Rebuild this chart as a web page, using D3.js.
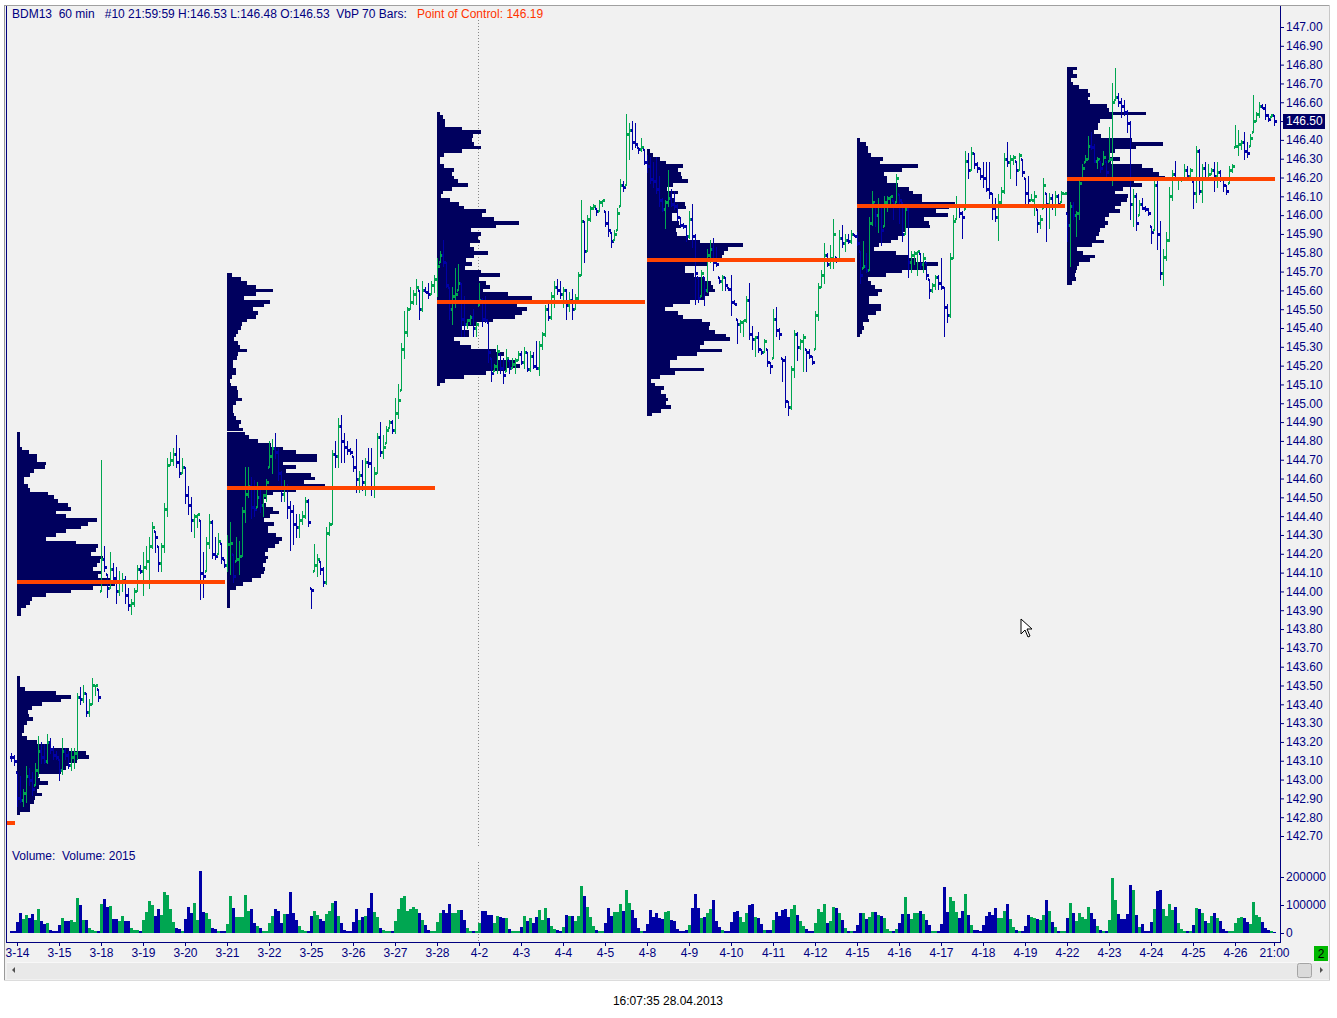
<!DOCTYPE html>
<html>
<head>
<meta charset="utf-8">
<title>BDM13 60 min - Volume by Price</title>
<script src="https://cdn.jsdelivr.net/npm/d3@7/dist/d3.min.js"></script>
<style>
	body { margin: 0; background: #ffffff; }
	svg text { font-family: "Liberation Sans", Arial, sans-serif; font-size: 12px; }
</style>
</head>
<body>
<div id="chart"></div>
<script>
// ---- data ----
// hourly bars, 14 per session; bar 0 and 1 are the tail of 3-13
var highs = [
	143.14,143.13,143.04,143.02,142.95,143.07,143.06,143.04,143.09,143.23,143.20,143.19,143.24,143.22,143.18,143.15,
	143.11,143.22,143.17,143.15,143.17,143.17,143.46,143.49,143.50,143.46,143.43,143.54,143.50,143.48,
	144.70,144.24,144.09,144.21,144.15,144.13,144.11,144.10,144.08,144.02,143.96,144.02,144.14,144.14,
	144.21,144.24,144.29,144.37,144.32,144.24,144.26,144.47,144.71,144.74,144.76,144.83,144.76,144.71,
	144.66,144.56,144.50,144.41,144.41,144.38,144.21,144.29,144.41,144.38,144.29,144.31,144.26,144.17,
	144.30,144.37,144.20,144.29,144.27,144.45,144.66,144.66,144.61,144.59,144.58,144.54,144.52,144.60,
	144.80,144.81,144.84,144.76,144.64,144.59,144.57,144.48,144.46,144.41,144.41,144.43,144.50,144.49,
	144.02,144.25,144.20,144.16,144.13,144.34,144.37,144.75,144.80,144.92,144.94,144.84,144.80,144.76,
	144.72,144.81,144.64,144.70,144.71,144.76,144.76,144.66,144.84,144.90,144.83,144.88,144.91,144.91,
	145.03,145.10,145.32,145.49,145.51,145.62,145.60,145.66,145.60,145.65,145.62,145.64,145.65,145.68,
	145.77,145.81,145.87,145.75,145.62,145.62,145.72,145.74,145.64,145.57,145.45,145.47,145.50,145.43,
	145.64,145.56,145.57,145.43,145.24,145.21,145.31,145.26,145.24,145.29,145.23,145.24,145.24,145.28,
	145.28,145.30,145.27,145.28,145.27,145.33,145.33,145.38,145.52,145.54,145.59,145.65,145.66,145.65,
	145.62,145.61,145.59,145.61,145.58,145.70,146.08,145.97,146.00,146.05,146.06,146.04,146.08,146.08,
	146.02,146.02,145.91,145.92,146.04,146.19,146.18,146.54,146.49,146.50,146.49,146.36,146.41,146.35,
	146.32,146.31,146.28,146.31,146.21,146.09,146.08,146.24,146.14,146.13,146.06,145.99,145.96,145.95,
	146.02,146.06,145.90,145.67,145.71,145.67,145.82,145.87,145.88,145.83,145.67,145.68,145.67,145.62,
	145.68,145.55,145.45,145.44,145.44,145.57,145.64,145.41,145.36,145.38,145.29,145.34,145.29,145.22,
	145.50,145.51,145.40,145.24,145.25,145.01,145.20,145.39,145.38,145.34,145.37,145.29,145.29,145.25,
	145.49,145.64,145.71,145.85,145.80,145.84,145.98,145.78,145.92,145.95,145.90,145.90,145.92,145.90,
	145.91,145.81,145.86,145.80,145.99,146.13,146.06,146.09,146.05,146.10,146.10,146.10,146.08,146.22,
	146.11,146.07,146.05,146.05,145.81,145.81,145.81,145.80,145.80,145.75,145.66,145.64,145.68,145.68,
	145.77,145.62,145.53,145.80,146.00,146.10,146.05,146.02,146.34,146.33,146.36,146.33,146.28,146.25,
	146.28,146.28,146.28,146.12,146.09,146.11,146.15,146.33,146.39,146.32,146.32,146.29,146.33,146.30,
	146.20,146.21,146.11,146.13,146.03,146.00,146.20,146.12,146.12,146.11,146.13,146.11,146.13,146.12,
	146.01,146.07,146.07,146.02,146.20,146.27,146.32,146.42,146.44,146.38,146.31,146.29,146.34,146.29,
	146.47,146.70,146.78,146.65,146.62,146.61,146.56,146.50,146.14,146.12,146.08,146.09,146.05,146.04,
	145.94,146.19,146.19,145.97,145.82,145.91,146.15,146.24,146.29,146.20,146.20,146.27,146.26,146.25,
	146.18,146.37,146.35,146.27,146.28,146.27,146.25,146.28,146.28,146.24,146.20,146.16,146.26,146.27,
	146.48,146.45,146.40,146.44,146.39,146.43,146.64,146.55,146.60,146.59,146.59,146.54,146.54,146.53
];
var lows = [
	143.10,143.08,142.86,142.88,142.86,142.88,142.97,142.92,142.97,143.02,143.09,143.09,143.09,143.14,143.11,143.11,
	143.00,143.03,143.11,143.06,143.05,143.06,143.11,143.40,143.41,143.34,143.34,143.40,143.45,143.42,
	144.00,144.11,143.97,144.02,144.04,143.94,143.98,144.00,143.94,143.90,143.88,143.92,144.00,144.10,
	143.98,144.12,144.02,144.23,144.21,144.11,144.11,144.21,144.40,144.67,144.67,144.66,144.61,144.63,
	144.47,144.41,144.32,144.29,144.34,143.96,143.97,144.11,144.23,144.18,144.17,144.20,144.15,144.13,
	144.11,144.09,144.05,144.16,144.09,144.19,144.37,144.50,144.39,144.40,144.45,144.42,144.40,144.48,
	144.66,144.63,144.71,144.59,144.48,144.48,144.39,144.22,144.25,144.29,144.29,144.36,144.39,144.35,
	143.91,144.11,144.08,144.09,144.03,144.04,144.30,144.36,144.66,144.66,144.69,144.69,144.73,144.73,
	144.64,144.53,144.53,144.54,144.51,144.66,144.51,144.50,144.63,144.72,144.71,144.79,144.87,144.84,
	144.84,144.92,145.07,145.24,145.36,145.50,145.53,145.53,145.45,145.49,145.59,145.56,145.58,145.59,
	145.57,145.75,145.73,145.62,145.45,145.42,145.51,145.60,145.36,145.36,145.40,145.42,145.36,145.36,
	145.52,145.41,145.43,145.22,145.12,145.17,145.16,145.16,145.11,145.17,145.16,145.19,145.16,145.23,
	145.21,145.19,145.17,145.17,145.19,145.18,145.15,145.29,145.36,145.44,145.45,145.51,145.58,145.56,
	145.51,145.45,145.49,145.45,145.50,145.54,145.68,145.75,145.81,145.97,146.03,146.00,146.02,146.05,
	145.94,145.89,145.83,145.87,145.92,146.05,146.13,146.16,146.30,146.35,146.36,146.33,146.34,146.27,
	146.23,146.17,146.15,146.12,146.05,146.02,145.93,146.05,146.05,146.03,145.97,145.94,145.93,145.86,
	145.88,145.83,145.53,145.54,145.57,145.52,145.59,145.75,145.71,145.73,145.64,145.60,145.60,145.60,
	145.47,145.53,145.32,145.38,145.36,145.43,145.34,145.29,145.25,145.27,145.26,145.27,145.20,145.16,
	145.24,145.36,145.34,145.12,144.98,144.94,144.97,145.14,145.23,145.29,145.17,145.17,145.24,145.21,
	145.29,145.44,145.62,145.64,145.73,145.72,145.72,145.75,145.76,145.83,145.81,145.85,145.85,145.89,
	145.84,145.64,145.72,145.70,145.71,145.95,145.94,145.91,145.84,145.94,146.02,146.05,145.98,146.07,
	145.96,145.86,145.90,145.67,145.70,145.74,145.68,145.72,145.70,145.66,145.56,145.59,145.61,145.61,
	145.61,145.36,145.43,145.46,145.77,145.98,145.99,145.88,146.03,146.20,146.24,146.25,146.23,146.19,
	146.15,146.13,146.09,145.98,145.97,145.87,146.05,146.12,146.26,146.20,146.27,146.16,146.24,146.21,
	146.05,146.05,146.08,146.00,145.91,145.93,146.04,145.86,145.93,146.03,146.00,146.05,146.07,146.11,
	145.86,145.73,145.98,145.89,145.98,146.20,146.28,146.30,146.35,146.28,146.25,146.23,146.27,146.21,
	146.29,146.16,146.61,146.58,146.52,146.53,146.44,145.98,145.94,145.92,146.00,146.03,146.02,146.00,
	145.85,145.92,145.82,145.66,145.63,145.76,145.86,146.08,146.19,146.14,146.18,146.19,146.19,146.20,
	146.04,146.07,146.11,146.07,146.19,146.19,146.22,146.13,146.15,146.18,146.13,146.11,146.17,146.23,
	146.36,146.32,146.35,146.30,146.31,146.37,146.44,146.50,146.52,146.57,146.51,146.50,146.52,146.48
];
var closes = [
	143.12,143.10,142.90,142.89,142.93,143.02,143.00,142.95,143.05,143.15,143.12,143.10,143.20,143.16,143.13,143.12,
	143.05,143.15,143.13,143.08,143.12,143.14,143.44,143.43,143.46,143.36,143.40,143.50,143.50,143.44,
	144.17,144.13,144.02,144.12,144.07,144.00,144.05,144.06,143.98,143.93,143.94,144.00,144.12,144.11,
	144.13,144.16,144.24,144.34,144.29,144.15,144.24,144.44,144.67,144.70,144.73,144.69,144.63,144.66,
	144.51,144.46,144.38,144.40,144.41,144.10,144.08,144.26,144.37,144.20,144.19,144.27,144.18,144.14,
	144.25,144.26,144.08,144.17,144.19,144.43,144.52,144.56,144.45,144.44,144.50,144.46,144.51,144.58,
	144.72,144.76,144.74,144.63,144.52,144.55,144.45,144.43,144.36,144.34,144.38,144.40,144.48,144.37,
	144.01,144.14,144.17,144.12,144.05,144.31,144.36,144.73,144.72,144.88,144.80,144.77,144.75,144.74,
	144.66,144.60,144.62,144.58,144.69,144.68,144.55,144.63,144.82,144.74,144.77,144.86,144.90,144.86,
	144.95,145.02,145.29,145.38,145.50,145.54,145.58,145.62,145.50,145.60,145.59,145.58,145.63,145.66,
	145.73,145.79,145.75,145.63,145.50,145.57,145.58,145.64,145.45,145.42,145.44,145.46,145.40,145.42,
	145.55,145.45,145.44,145.27,145.16,145.20,145.28,145.19,145.15,145.24,145.19,145.21,145.23,145.26,
	145.22,145.27,145.18,145.25,145.20,145.19,145.31,145.37,145.50,145.46,145.57,145.62,145.60,145.58,
	145.60,145.52,145.55,145.50,145.56,145.68,145.97,145.81,145.98,146.04,146.05,146.02,146.07,146.08,
	145.96,145.92,145.86,145.90,146.01,146.16,146.15,146.43,146.45,146.39,146.38,146.35,146.36,146.28,
	146.26,146.19,146.18,146.14,146.08,146.03,146.07,146.09,146.06,146.05,145.99,145.95,145.94,145.89,
	145.98,145.89,145.69,145.56,145.69,145.60,145.79,145.82,145.75,145.74,145.65,145.67,145.63,145.61,
	145.54,145.53,145.42,145.43,145.44,145.55,145.37,145.34,145.35,145.29,145.27,145.33,145.22,145.20,
	145.45,145.39,145.37,145.23,145.01,144.98,145.18,145.37,145.30,145.33,145.35,145.27,145.25,145.22,
	145.47,145.62,145.68,145.79,145.74,145.77,145.90,145.76,145.88,145.85,145.87,145.86,145.90,145.89,
	145.85,145.68,145.73,145.71,145.96,146.07,146.00,146.05,145.92,146.07,146.09,146.10,146.06,146.20,
	146.08,145.90,146.03,145.75,145.79,145.80,145.81,145.74,145.77,145.68,145.60,145.63,145.67,145.64,
	145.62,145.51,145.47,145.77,145.97,146.05,146.01,145.99,146.29,146.24,146.33,146.27,146.25,146.21,
	146.20,146.14,146.12,146.04,145.99,146.07,146.13,146.30,146.28,146.30,146.31,146.24,146.32,146.23,
	146.12,146.08,146.08,146.10,145.96,145.98,146.16,146.06,146.09,146.05,146.10,146.06,146.12,146.12,
	145.95,146.05,146.00,146.01,146.17,146.25,146.30,146.37,146.36,146.29,146.30,146.25,146.31,146.23,
	146.30,146.60,146.63,146.60,146.58,146.55,146.49,146.06,146.10,145.96,146.06,146.04,146.03,146.01,
	145.91,146.16,145.90,145.69,145.78,145.87,146.10,146.22,146.20,146.20,146.20,146.24,146.21,146.24,
	146.12,146.34,146.13,146.25,146.20,146.22,146.24,146.21,146.23,146.19,146.16,146.13,146.24,146.26,
	146.37,146.38,146.39,146.34,146.33,146.41,146.50,146.54,146.58,146.57,146.53,146.51,146.53,146.50
];
// bar volume, thousands of contracts
var volumeK = [
	7,7,39,71,50,64,54,68,46,86,43,32,36,11,7,7,
	29,54,43,43,46,39,125,100,46,46,18,11,7,7,
	104,121,93,96,50,50,43,61,43,43,18,11,11,7,
	46,75,114,100,61,86,64,146,136,86,39,18,14,7,
	50,93,71,107,46,221,75,71,50,18,14,7,7,7,
	32,132,89,57,57,57,136,79,86,36,25,18,7,7,
	36,61,86,79,36,68,68,146,71,46,25,11,7,7,
	61,79,64,50,43,68,79,107,114,61,36,11,7,7,
	39,86,46,57,61,89,143,75,57,18,11,7,7,7,
	43,86,125,132,79,86,93,86,71,46,29,11,7,7,
	39,71,82,71,104,71,71,82,82,46,18,7,7,7,
	36,79,79,65,65,36,61,57,54,54,15,7,7,7,
	21,61,43,54,36,57,82,46,89,54,25,14,11,7,
	21,64,61,61,43,61,168,132,93,57,25,11,7,7,
	36,89,61,75,75,104,79,154,107,82,54,18,7,7,
	32,82,57,71,54,50,75,79,46,43,14,7,7,11,
	29,89,139,89,54,57,71,86,118,43,21,11,7,7,
	39,75,79,57,39,71,100,104,57,54,32,11,11,11,
	46,75,61,82,86,57,86,100,64,43,25,14,7,7,
	36,86,75,104,36,43,93,89,71,46,18,7,7,7,
	29,71,71,50,57,75,75,64,61,54,14,7,7,14,
	36,68,129,68,50,71,71,79,68,46,29,7,7,7,
	32,164,75,129,114,75,54,79,139,64,29,11,11,7,
	29,61,75,64,89,54,54,79,104,50,21,11,7,7,
	25,64,57,54,50,46,64,118,79,39,21,7,7,7,
	54,107,71,43,71,57,50,93,71,50,25,11,7,7,
	46,196,118,68,50,50,68,171,154,64,21,32,7,7,
	39,86,150,154,86,61,104,82,93,36,14,7,7,7,
	29,89,86,71,43,36,61,71,54,43,14,7,7,7,
	36,54,57,54,39,32,111,64,57,39,18,11,7,2.015
];

// session labels on the time axis (first bar of each session)
var sessionLabels = ["3-14","3-15","3-18","3-19","3-20","3-21","3-22","3-25","3-26","3-27","3-28",
	"4-2","4-3","4-4","4-5","4-8","4-9","4-10","4-11","4-12","4-15","4-16","4-17","4-18","4-19",
	"4-22","4-23","4-24","4-25","4-26"];
var lastBarLabel = "21:00";
var monthStartLabel = "4-2";

// volume by price, one profile per 70 bars, 0.02 price rows from the top price down (relative volume)
var profileStartBar = [2, 72, 142, 212, 282, 352];
var profileTopPrice = [144.84, 145.68, 146.54, 146.34, 146.40, 146.78];
var profileRow = 0.02;
var vbp1 = [3,3,3,3,5,12,20,20,30,29,17,13,7,7,11,13,32,38,42,52,55,40,50,82,72,65,50,40,30,60,
	83,81,75,88,85,82,78,86,83,95,100,78,55,30,15,13,9,4,4,
	0,0,0,0,0,0,0,0,0,0,0,0,0,0,0,0,
	3,3,3,8,40,55,45,25,15,11,12,16,10,7,7,5,10,20,35,53,70,73,61,52,50,45,21,23,32,22,20,25,18,17,13,13,3];
var vbp2 = [5,14,20,28,45,28,17,42,36,25,30,28,20,15,14,11,9,7,11,13,20,11,10,6,6,9,9,5,3,4,
	10,11,11,15,9,6,6,7,9,14,12,16,18,22,30,43,55,68,88,88,55,68,58,82,86,75,96,68,45,38,
	35,38,45,51,42,36,46,40,40,48,54,51,47,40,37,40,38,35,37,36,33,24,16,9,3,3,3,3,3];
var vbp3 = [3,6,8,8,25,45,37,36,38,45,25,7,3,3,7,17,15,17,21,32,15,6,4,13,22,28,50,46,58,84,
	60,35,45,42,44,34,38,52,38,30,36,29,45,64,43,50,54,47,72,97,100,82,92,87,80,57,40,25,33,33,
	17,23,35,60,68,61,80,85,70,50,28,8,3];
var vbp4 = [3,6,14,20,38,33,36,37,43,28,21,33,25,30,40,41,33,27,26,34,36,31,32,44,56,102,86,82,80,104,
	65,40,40,50,60,68,70,72,66,62,46,28,19,33,38,58,67,66,72,84,88,60,56,80,53,32,24,24,60,30,
	14,4,8,18,15,20,22,20,25,15,5];
var vbp5 = [3,9,11,11,14,27,23,62,46,28,31,31,42,53,57,66,66,100,94,81,93,68,73,74,49,46,42,35,22,17,
	40,53,60,83,70,46,30,11,14,18,25,21,12,12,24,24,19,11,12,6,7,5,3];
var vbp6 = [10,6,10,4,6,12,22,24,22,24,42,44,82,48,34,32,32,28,35,68,100,72,50,45,55,46,78,90,96,102,
	70,78,58,50,63,62,56,50,55,44,40,43,40,34,33,30,38,26,10,17,29,24,13,10,9,8,9,5];

// point of control per profile (first one belongs to the profile before 3-14)
var pocStartBar = [-68, 2, 72, 142, 212, 282, 352];
var pocPrice = [142.77, 144.05, 144.55, 145.54, 145.76, 146.05, 146.19];

var symbolText = "BDM13  60 min   #10 21:59:59";
var clockText = "16:07:35 28.04.2013";
var openPage = "2";

// ---- drawing ----
var W = 1337, H = 1018;
var navy = "#000080";
var upColor = "#00a651";
var downColor = "#0000a6";
var vbpColor = "#00005e";
var pocColor = "#ff4400";
var fmt2 = d3.format(".2f");

var svg = d3.select("#chart").append("svg")
	.attr("width", W)
	.attr("height", H);

var nBars = highs.length;
var x = d3.scaleLinear().domain([0, nBars - 1]).range([11, 1274]);
var y = d3.scaleLinear().domain([142.70, 147.00]).range([836, 27]);
var yVol = d3.scaleLinear().domain([0, 200000]).range([933, 877]);

// window frame
svg.append("rect").attr("x", 4).attr("y", 5).attr("width", 1326).attr("height", 976)
	.attr("fill", "#f1f1f1");
svg.append("line").attr("x1", 4).attr("x2", 1330).attr("y1", 5.5).attr("y2", 5.5).attr("stroke", "#a0a0a0");
svg.append("line").attr("x1", 4.5).attr("x2", 4.5).attr("y1", 5).attr("y2", 980).attr("stroke", "#9a9a9a");
svg.append("line").attr("x1", 1329.5).attr("x2", 1329.5).attr("y1", 5).attr("y2", 980).attr("stroke", "#c8c8c8");
svg.append("line").attr("x1", 4).attr("x2", 1330).attr("y1", 980.5).attr("y2", 980.5).attr("stroke", "#dcdcdc");

var defs = svg.append("defs");
defs.append("clipPath").attr("id", "priceClip")
	.append("rect").attr("x", 7).attr("y", 7).attr("width", 1273).attr("height", 841);

// month separator
var sepX = x(2 + 14 * sessionLabels.indexOf(monthStartLabel)) - 0.5;
[[20, 848], [862, 942]].forEach(function(r) {
	svg.append("line")
		.attr("x1", sepX).attr("x2", sepX).attr("y1", r[0]).attr("y2", r[1])
		.attr("stroke", "#888").attr("stroke-dasharray", "1,2");
});

var price = svg.append("g").attr("clip-path", "url(#priceClip)");

// volume by price profiles
var profiles = [vbp1, vbp2, vbp3, vbp4, vbp5, vbp6];
profiles.forEach(function(vals, p) {
	var w = d3.scaleLinear().domain([0, d3.max(vals)]).range([0, 98]);
	var x0 = x(profileStartBar[p]);
	price.append("g").selectAll("rect")
		.data(vals)
		.enter().append("rect")
		.attr("x", x0)
		.attr("y", function(d, k) { return Math.round(y(profileTopPrice[p] - k * profileRow + profileRow / 2)); })
		.attr("height", function(d, k) {
			var lev = profileTopPrice[p] - k * profileRow;
			return Math.round(y(lev - profileRow / 2)) - Math.round(y(lev + profileRow / 2));
		})
		.attr("width", function(d) { return d > 0 ? Math.max(1, Math.round(w(d))) : 0; })
		.attr("fill", vbpColor);
});

// bar colour: close against the previous close
function barColor(i) {
	if (i === 0) return downColor;
	return closes[i] >= closes[i - 1] ? upColor : downColor;
}
function barOpen(i) {
	var o = i === 0 ? closes[0] : closes[i - 1];
	return Math.min(highs[i], Math.max(lows[i], o));
}

var bars = price.append("g").selectAll("g")
	.data(d3.range(nBars))
	.enter().append("g")
	.attr("fill", barColor);
bars.append("rect")
	.attr("x", function(i) { return x(i); })
	.attr("y", function(i) { return Math.round(y(highs[i])); })
	.attr("width", 1)
	.attr("height", function(i) { return Math.round(y(lows[i])) - Math.round(y(highs[i])) + 1; });
bars.append("rect")
	.attr("x", function(i) { return x(i) - 1; })
	.attr("y", function(i) { return Math.round(y(barOpen(i))) - 1; })
	.attr("width", 1).attr("height", 3);
bars.append("rect")
	.attr("x", function(i) { return x(i) + 1; })
	.attr("y", function(i) { return Math.round(y(closes[i])) - 1; })
	.attr("width", 2).attr("height", 3);

// points of control
price.append("g").selectAll("rect")
	.data(pocPrice)
	.enter().append("rect")
	.attr("x", function(d, k) { return x(pocStartBar[k]); })
	.attr("width", function(d, k) { return x(pocStartBar[k] + 69) - x(pocStartBar[k]) + 1; })
	.attr("y", function(d) { return Math.round(y(d)) - 2; })
	.attr("height", 4)
	.attr("fill", pocColor);

// volume histogram
svg.append("g").selectAll("rect")
	.data(volumeK)
	.enter().append("rect")
	.attr("x", function(d, i) { return x(i) - 1; })
	.attr("width", 3)
	.attr("y", function(d) { return Math.round(yVol(d * 1000)); })
	.attr("height", function(d) { return 933 - Math.round(yVol(d * 1000)); })
	.attr("fill", function(d, i) { return barColor(i); });

// plot borders
svg.append("line").attr("x1", 6.5).attr("x2", 6.5).attr("y1", 6).attr("y2", 943).attr("stroke", navy);
svg.append("line").attr("x1", 1280.5).attr("x2", 1280.5).attr("y1", 6).attr("y2", 943).attr("stroke", navy);
svg.append("line").attr("x1", 6).attr("x2", 1281).attr("y1", 942.5).attr("y2", 942.5).attr("stroke", navy);

// price axis
var priceTicks = d3.range(1427, 1471).map(function(d) { return d / 10; });
var priceAxis = svg.append("g")
	.attr("transform", "translate(1280,0)")
	.call(d3.axisRight(y).tickValues(priceTicks).tickFormat(fmt2).tickSize(4).tickPadding(2));
// volume axis
var volAxis = svg.append("g")
	.attr("transform", "translate(1280,0)")
	.call(d3.axisRight(yVol).tickValues([0, 100000, 200000]).tickFormat(d3.format("d")).tickSize(4).tickPadding(2));
// time axis
var timeTicks = sessionLabels.map(function(d, k) { return 2 + 14 * k; }).concat([nBars - 1]);
var timeAxis = svg.append("g")
	.attr("transform", "translate(0,942)")
	.call(d3.axisBottom(x).tickValues(timeTicks).tickSize(4).tickPadding(2)
		.tickFormat(function(d, k) { return k < sessionLabels.length ? sessionLabels[k] : lastBarLabel; }));

[priceAxis, volAxis, timeAxis].forEach(function(a) {
	a.select(".domain").remove();
	a.selectAll("line").attr("stroke", navy);
	a.selectAll("text").attr("fill", navy).style("font-size", "12px")
		.style("font-family", "'Liberation Sans', Arial, sans-serif");
});

// last price marker
var last = nBars - 1;
var lastY = Math.round(y(closes[last]));
svg.append("rect").attr("x", 1283).attr("y", lastY - 7).attr("width", 42).attr("height", 15)
	.attr("fill", "#000066");
svg.append("text").attr("x", 1286).attr("y", lastY + 4)
	.attr("fill", "#ffffff").text(fmt2(closes[last]));

// header
var head = svg.append("text").attr("x", 12).attr("y", 18).style("white-space", "pre");
head.append("tspan").attr("fill", navy)
	.text(symbolText + " H:" + fmt2(highs[last]) + " L:" + fmt2(lows[last]) + " O:" + fmt2(barOpen(last)) +
		"  VbP " + (profileStartBar[1] - profileStartBar[0]) + " Bars:");
head.append("tspan").attr("x", 417).attr("fill", "#ff3300")
	.text("Point of Control: " + fmt2(pocPrice[pocPrice.length - 1]));

svg.append("text").attr("x", 12).attr("y", 860).attr("fill", navy).style("white-space", "pre")
	.text("Volume:  Volume: " + Math.round(volumeK[last] * 1000));

// page indicator
svg.append("rect").attr("x", 1314).attr("y", 946).attr("width", 14).attr("height", 15).attr("fill", "#00b800");
svg.append("text").attr("x", 1321).attr("y", 958).attr("text-anchor", "middle").attr("fill", "#000")
	.text(openPage);

// scroll bar
svg.append("rect").attr("x", 7).attr("y", 962).attr("width", 1322).attr("height", 17)
	.attr("fill", "#e9e9e9");
svg.append("line").attr("x1", 7).attr("x2", 1329).attr("y1", 962.5).attr("y2", 962.5).attr("stroke", "#f8f8f8");
svg.append("path").attr("d", "M12,970 L15,967 L15,973 Z").attr("fill", "#505050");
svg.append("path").attr("d", "M1323,970 L1320,967 L1320,973 Z").attr("fill", "#505050");
svg.append("rect").attr("x", 1297.5).attr("y", 963.5).attr("width", 14).attr("height", 14).attr("rx", 2)
	.attr("fill", "#dadada").attr("stroke", "#a4a4a4");

// mouse pointer
svg.append("path")
	.attr("transform", "translate(1021,619)")
	.attr("d", "M0,0 L0,15 L4,11 L7,18 L9,17 L6,10 L11,10 Z")
	.attr("fill", "#ffffff").attr("stroke", "#000").attr("stroke-width", 1);

// clock
svg.append("text").attr("x", 668).attr("y", 1005).attr("text-anchor", "middle").attr("fill", "#000")
	.text(clockText);
</script>
</body>
</html>
